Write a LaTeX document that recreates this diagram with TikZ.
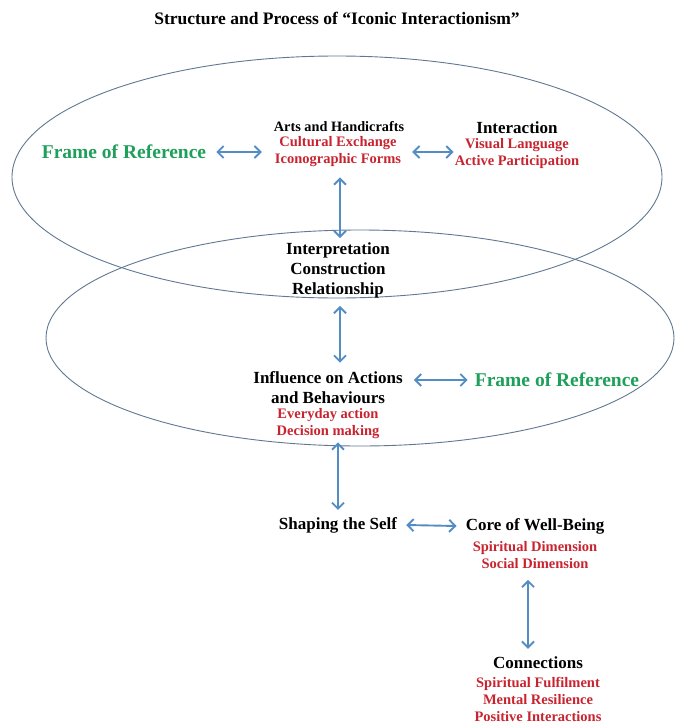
\documentclass[tikz,border=0pt]{standalone}
\usepackage{fontspec}
\setmainfont{Liberation Serif}
\usetikzlibrary{arrows.meta,positioning}
\definecolor{ringcol}{RGB}{96,120,146}
\definecolor{linkcol}{RGB}{84,141,196}
\definecolor{subcol}{RGB}{200,36,48}
\definecolor{framecol}{RGB}{30,160,90}
\tikzset{
  % ellipse outline
  ring/.style={draw=ringcol, line width=0.9pt},
  % double-headed connector
  link/.style={{Straight Barb[length=6pt,width=12pt]}-{Straight Barb[length=6pt,width=12pt]},
               draw=linkcol, line width=1.9pt},
  % black heading
  head/.style={font=\fontsize{17}{20}\selectfont\bfseries, align=center, inner sep=1pt},
  % small black heading
  smallhead/.style={font=\fontsize{14.3}{17}\selectfont\bfseries, inner sep=1pt},
  % red sub-items
  sublist/.style={font=\fontsize{14.5}{17}\selectfont\bfseries, text=subcol, align=center, inner sep=1pt},
  % green frame label
  framelabel/.style={font=\fontsize{19.5}{22}\selectfont\bfseries, text=framecol, inner sep=1pt},
}
\begin{document}
\begin{tikzpicture}[x=1pt, y=-1pt]
  \useasboundingbox (0,0) rectangle (676,723);
  \node[font=\fontsize{17.5}{20}\selectfont\bfseries] (title) at (337,18)
    {Structure and Process of “Iconic Interactionism”};

  % the two rings
  \draw[ring] (337,177) ellipse [x radius=325, y radius=121];
  \draw[ring] (360,338) ellipse [x radius=314, y radius=108];

  % upper ring
  \node[framelabel] (frA) at (124,152) {Frame of Reference};
  \node[smallhead] (arts) at (339,127) {Arts and Handicrafts};
  \node[sublist] (artssub) at (338,152) {Cultural Exchange\\Iconographic Forms};
  \node[head] (inter) at (517,128) {Interaction};
  \node[sublist] (intersub) at (517,154) {Visual Language\\Active Participation};

  % overlap of the rings
  \node[head] (interp) at (338,270) {Interpretation\\Construction\\Relationship};

  % lower ring
  \node[head] (infl) at (328,388) {Influence on Actions\\and Behaviours};
  \node[sublist] (inflsub) at (328,424) {Everyday action\\Decision making};
  \node[framelabel] (frB) at (557,380) {Frame of Reference};

  % below the rings
  \node[head] (self) at (338,525) {Shaping the Self};
  \node[head] (core) at (535,526) {Core of Well-Being};
  \node[sublist] (coresub) at (535,555) {Spiritual Dimension\\Social Dimension};
  \node[head] (conn) at (538,663) {Connections};
  \node[sublist] (connsub) at (538,699) {Spiritual Fulfilment\\Mental Resilience\\Positive Interactions};

  % connectors
  \draw[link] ([xshift=9pt]frA.east) -- ([xshift=-12pt]artssub.west);
  \draw[link] ([xshift=10pt]artssub.east) -- (intersub.west |- artssub.east);
  \draw[link] ([xshift=2pt, yshift=-9pt]artssub.south) -- ([xshift=2pt, yshift=3pt]interp.north);
  \draw[link] ([xshift=2pt, yshift=-7pt]interp.south) -- ([xshift=12pt, yshift=8pt]infl.north);
  \draw[link] ([xshift=10pt]infl.east |- frB) -- ([xshift=-6pt]frB.west);
  \draw[link] ([xshift=10pt, yshift=-2pt]inflsub.south) -- ([yshift=6pt]self.north);
  \draw[link] ([xshift=8pt]self.east) -- ([xshift=-8pt]core.west);
  \draw[link] ([xshift=-7pt, yshift=-10pt]coresub.south) -- ([xshift=-10pt, yshift=7pt]conn.north);
\end{tikzpicture}
\end{document}
